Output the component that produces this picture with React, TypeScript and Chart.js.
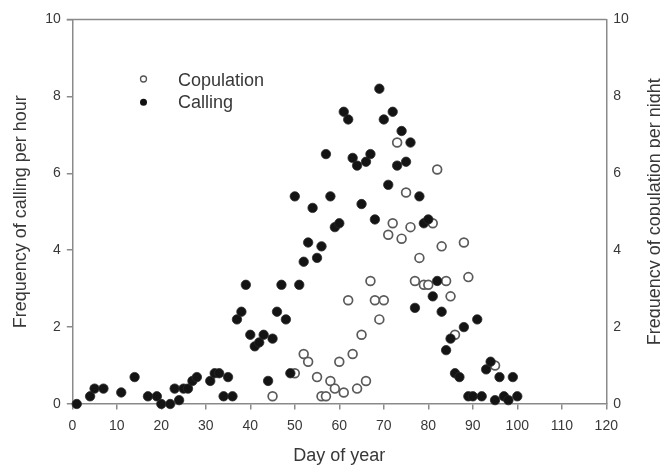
import React, { useEffect, useRef } from "react";
import { Chart, registerables } from "chart.js";

Chart.register(...registerables);

const callingDays = [1, 4, 5, 7, 11, 14, 17, 19, 20, 22, 23, 24, 25, 26, 27, 28, 31, 32, 33, 34, 35, 36, 37, 38, 39, 40, 41, 42, 43, 44, 45, 46, 47, 48, 49, 50, 51, 52, 53, 54, 55, 56, 57, 58, 59, 60, 61, 62, 63, 64, 65, 66, 67, 68, 69, 70, 71, 72, 73, 74, 75, 76, 77, 78, 79, 80, 81, 82, 83, 84, 85, 86, 87, 88, 89, 90, 91, 92, 93, 94, 95, 96, 97, 98, 99, 100];
const callingValues = [0, 0.2, 0.4, 0.4, 0.3, 0.7, 0.2, 0.2, 0, 0, 0.4, 0.1, 0.4, 0.4, 0.6, 0.7, 0.6, 0.8, 0.8, 0.2, 0.7, 0.2, 2.2, 2.4, 3.1, 1.8, 1.5, 1.6, 1.8, 0.6, 1.7, 2.4, 3.1, 2.2, 0.8, 5.4, 3.1, 3.7, 4.2, 5.1, 3.8, 4.1, 6.5, 5.4, 4.6, 4.7, 7.6, 7.4, 6.4, 6.2, 5.2, 6.3, 6.5, 4.8, 8.2, 7.4, 5.7, 7.6, 6.2, 7.1, 6.3, 6.8, 2.5, 5.4, 4.7, 4.8, 2.8, 3.2, 2.4, 1.4, 1.7, 0.8, 0.7, 2.0, 0.2, 0.2, 2.2, 0.2, 0.9, 1.1, 0.1, 0.7, 0.2, 0.1, 0.7, 0.2];

const copulationDays = [45, 50, 52, 53, 55, 56, 57, 58, 59, 60, 61, 62, 63, 64, 65, 66, 67, 68, 69, 70, 71, 72, 73, 74, 75, 76, 77, 78, 79, 80, 81, 82, 83, 84, 85, 86, 88, 89, 95];
const copulationValues = [0.2, 0.8, 1.3, 1.1, 0.7, 0.2, 0.2, 0.6, 0.4, 1.1, 0.3, 2.7, 1.3, 0.4, 1.8, 0.6, 3.2, 2.7, 2.2, 2.7, 4.4, 4.7, 6.8, 4.3, 5.5, 4.6, 3.2, 3.8, 3.1, 3.1, 4.7, 6.1, 4.1, 3.2, 2.8, 1.8, 4.2, 3.3, 1.0];

const xTitle = "Day of year";
const yLeftTitle = "Frequency of calling per hour";
const yRightTitle = "Frequency of copulation per night";
const legendLabels = ["Copulation", "Calling"];

const FONT = "'Liberation Sans', Arial, sans-serif";
const AXIS = "#8a8a8a";
const TEXT = "#383838";

const decorPlugin = {
  id: "decor",
  afterDraw(chart: any) {
    const { ctx, chartArea } = chart;
    const { left, right, top, bottom } = chartArea;
    ctx.save();
    ctx.strokeStyle = AXIS;
    ctx.lineWidth = 1.5;
    ctx.beginPath();
    ctx.moveTo(left - 5.5, top);
    ctx.lineTo(right, top);
    ctx.stroke();

    ctx.fillStyle = TEXT;
    ctx.font = `18px ${FONT}`;
    ctx.textAlign = "center";
    ctx.textBaseline = "alphabetic";
    ctx.fillText(xTitle, (left + right) / 2, 461);
    const cy = (top + bottom) / 2;
    ctx.save();
    ctx.translate(26, cy);
    ctx.rotate(-Math.PI / 2);
    ctx.fillText(yLeftTitle, 0, 0);
    ctx.restore();
    ctx.save();
    ctx.translate(659.6, cy);
    ctx.rotate(-Math.PI / 2);
    ctx.fillText(yRightTitle, 0, 0);
    ctx.restore();

    ctx.textAlign = "left";
    ctx.fillText(legendLabels[0], 178, 86);
    ctx.fillText(legendLabels[1], 178, 108.3);
    ctx.beginPath();
    ctx.arc(143.5, 79, 3, 0, Math.PI * 2);
    ctx.fillStyle = "#fff";
    ctx.fill();
    ctx.strokeStyle = "#555";
    ctx.lineWidth = 1.3;
    ctx.stroke();
    ctx.beginPath();
    ctx.arc(143.5, 102.3, 3.5, 0, Math.PI * 2);
    ctx.fillStyle = "#111";
    ctx.fill();
    ctx.restore();
  },
};

export default function App() {
  const ref = useRef<HTMLCanvasElement | null>(null);
  useEffect(() => {
    if (!ref.current) return;
    Chart.defaults.font.family = FONT;
    const chart = new Chart(ref.current, {
      type: "scatter",
      data: {
        datasets: [
          {
            label: legendLabels[1],
            data: callingDays.map((d, i) => ({ x: d, y: callingValues[i] })),
            backgroundColor: "#141414",
            borderColor: "#2a2a2a",
            borderWidth: 0.8,
            pointRadius: 4.7,
            clip: false,
            yAxisID: "y",
          },
          {
            label: legendLabels[0],
            data: copulationDays.map((d, i) => ({ x: d, y: copulationValues[i] })),
            backgroundColor: "#ffffff",
            borderColor: "#5a5a5a",
            borderWidth: 1.7,
            pointRadius: 4.4,
            clip: false,
            yAxisID: "y2",
          },
        ],
      },
      options: {
        responsive: false,
        animation: false,
        layout: { padding: { top: 19.5, left: 0, right: 0, bottom: 0 } },
        plugins: { legend: { display: false }, tooltip: { enabled: false } },
        scales: {
          x: {
            type: "linear",
            min: 0,
            max: 120,
            ticks: { stepSize: 10, color: TEXT, font: { size: 14 }, padding: 8 },
            grid: { drawOnChartArea: false, drawTicks: true, tickLength: 5.5, color: AXIS, lineWidth: 1.5 },
            border: { color: AXIS, width: 1.5 },
            afterFit: (s: any) => { s.height = 63; },
          },
          y: {
            position: "left",
            min: 0,
            max: 10,
            ticks: { stepSize: 2, color: TEXT, font: { size: 14 }, padding: 6 },
            grid: { drawOnChartArea: false, drawTicks: true, tickLength: 5.5, color: AXIS, lineWidth: 1.5 },
            border: { color: AXIS, width: 1.5 },
            afterFit: (s: any) => { s.width = 72.3; },
          },
          y2: {
            position: "right",
            min: 0,
            max: 10,
            ticks: { stepSize: 2, color: TEXT, font: { size: 14 }, padding: 7 },
            grid: { drawOnChartArea: false, drawTicks: false, color: AXIS, lineWidth: 1.5 },
            border: { color: AXIS, width: 1.5 },
            afterFit: (s: any) => { s.width = 53.7; },
          },
        },
      },
      plugins: [decorPlugin],
    });
    return () => chart.destroy();
  }, []);
  return (
    <div style={{ position: "fixed", left: 0, top: 0, width: 660, height: 467, background: "#fff" }}>
      <canvas ref={ref} width={660} height={467} style={{ display: "block" }} />
    </div>
  );
}
